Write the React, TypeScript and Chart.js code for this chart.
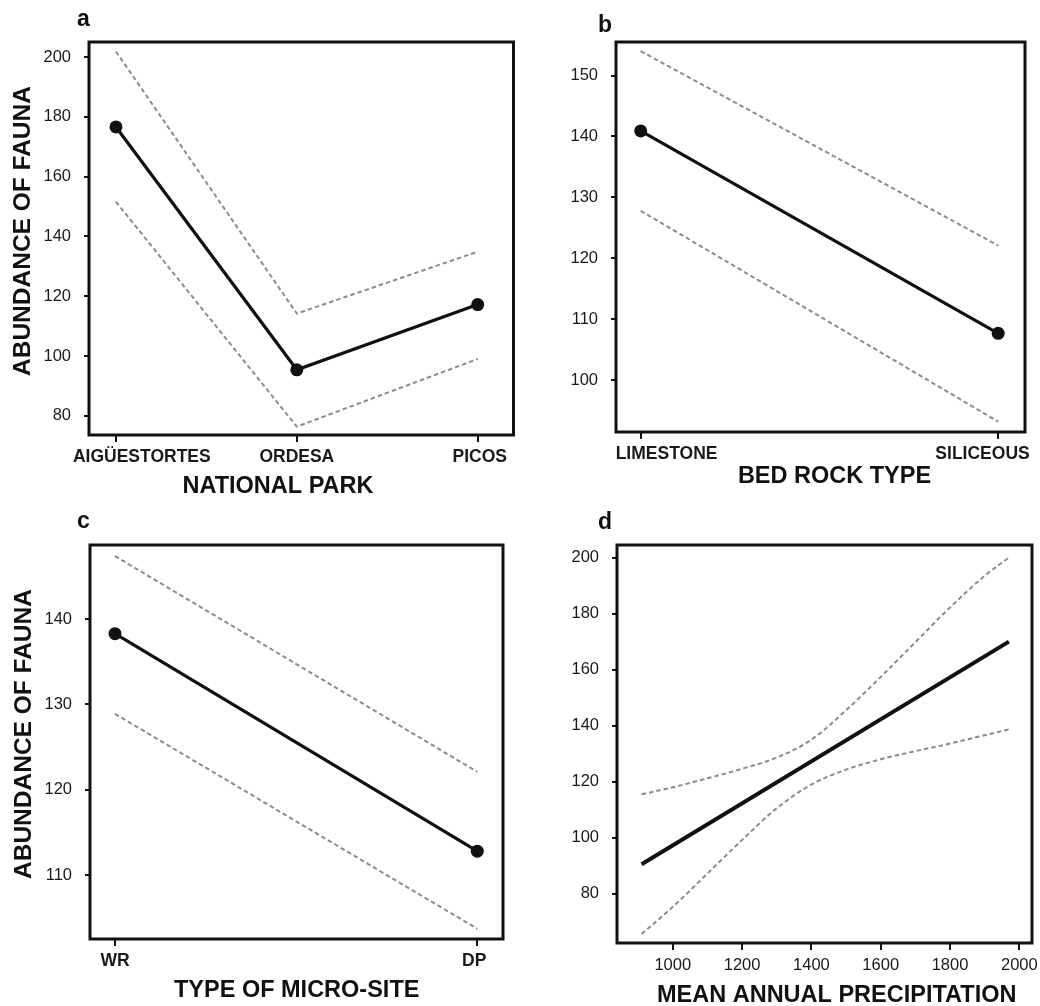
import React, { useEffect, useRef } from 'react';
import { Chart, registerables } from 'chart.js';

Chart.register(...registerables);

// ---------------- DATA ----------------
const parkCategories = ['AIGÜESTORTES', 'ORDESA', 'PICOS'];
const parkFit = [176.6, 95.4, 117.2];
const parkUpper = [201.8, 114.2, 134.9];
const parkLower = [151.6, 76.4, 99.0];
const parkYTicks = [80, 100, 120, 140, 160, 180, 200];

const rockCategories = ['LIMESTONE', 'SILICEOUS'];
const rockFit = [140.9, 107.7];
const rockUpper = [154.0, 122.1];
const rockLower = [127.8, 93.2];
const rockYTicks = [100, 110, 120, 130, 140, 150];

const siteCategories = ['WR', 'DP'];
const siteFit = [138.3, 112.8];
const siteUpper = [147.4, 122.1];
const siteLower = [128.9, 103.7];
const siteYTicks = [110, 120, 130, 140];

const precipX = [910, 1000, 1100, 1200, 1300, 1400, 1500, 1600, 1700, 1800, 1900, 1970];
const precipUpper = [115.5, 118.0, 121.2, 124.6, 128.6, 135.0, 145.5, 157.4, 169.8, 182.2, 193.5, 200.0];
const precipLower = [65.6, 75.3, 87.2, 99.2, 110.5, 119.0, 124.3, 128.0, 130.9, 133.6, 136.6, 138.7];
const precipFitX = [910, 1970];
const precipFit = [90.5, 170.0];
const precipXTicks = [1000, 1200, 1400, 1600, 1800, 2000];
const precipYTicks = [80, 100, 120, 140, 160, 180, 200];

const yAxisTitle = 'ABUNDANCE OF FAUNA';

// ---------------- STYLE ----------------
const FONT = '"Liberation Sans", Arial, Helvetica, sans-serif';
const INK = '#111111';
const CI_COLOR = '#8c8c8c';

type Adjust = { align: 'left' | 'right' | 'center'; dx: number };

interface PanelSpec {
  letter: string;
  letterPos: [number, number];
  box: { left: number; top: number; width: number; height: number };
  area: { left: number; top: number; right: number; bottom: number };
  xMin: number; xMax: number; yMin: number; yMax: number;
  xTicks: number[];
  xLabel: (v: number) => string;
  xBold: boolean;
  xFontSize: number;
  xPad: number;
  yTicks: number[];
  xTitle: string;
  xTitlePos: [number, number];
  yTitle?: string;
  yTitlePos?: [number, number];
  datasets: any[];
  adjust?: Adjust[];
}

const pts = (xs: number[], ys: number[]) => ys.map((y, i) => ({ x: xs[i], y }));
const idx = (ys: any[]) => ys.map((_, i) => i);

function catDatasets(fit: number[], up: number[], lo: number[]) {
  const xs = idx(fit);
  return [
    {
      data: pts(xs, fit), borderColor: INK, borderWidth: 3.2, pointRadius: 6.5,
      pointBackgroundColor: INK, pointBorderColor: INK, pointBorderWidth: 0, tension: 0, fill: false,
    },
    { data: pts(xs, up), borderColor: CI_COLOR, borderWidth: 2, borderDash: [4.5, 3], pointRadius: 0, tension: 0, fill: false },
    { data: pts(xs, lo), borderColor: CI_COLOR, borderWidth: 2, borderDash: [4.5, 3], pointRadius: 0, tension: 0, fill: false },
  ];
}

const CENTER: Adjust = { align: 'center', dx: 0 };

const panels: PanelSpec[] = [
  {
    letter: 'a', letterPos: [77, 26],
    box: { left: 0, top: 0, width: 520, height: 500 },
    area: { left: 89, top: 42, right: 515, bottom: 435 },
    xMin: -0.149, xMax: 2.198, yMin: 73.6, yMax: 205,
    xTicks: idx(parkCategories), xLabel: (v) => parkCategories[v] ?? '', xBold: true, xFontSize: 17.5, xPad: 5,
    yTicks: parkYTicks,
    xTitle: 'NATIONAL PARK', xTitlePos: [278, 487],
    yTitle: yAxisTitle, yTitlePos: [23.5, 231],
    datasets: catDatasets(parkFit, parkUpper, parkLower),
    adjust: [{ align: 'left', dx: -43 }, CENTER, { align: 'center', dx: 2 }],
  },
  {
    letter: 'b', letterPos: [78, 32],
    box: { left: 520, top: 0, width: 520, height: 500 },
    area: { left: 96, top: 42, right: 505, bottom: 432 },
    xMin: -0.069, xMax: 1.075, yMin: 91.5, yMax: 155.5,
    xTicks: idx(rockCategories), xLabel: (v) => rockCategories[v] ?? '', xBold: true, xFontSize: 17.5, xPad: 5,
    yTicks: rockYTicks,
    xTitle: 'BED ROCK TYPE', xTitlePos: [314.5, 476.7],
    datasets: catDatasets(rockFit, rockUpper, rockLower),
    adjust: [{ align: 'left', dx: -25 }, { align: 'right', dx: 31.5 }],
  },
  {
    letter: 'c', letterPos: [77, 28],
    box: { left: 0, top: 500, width: 520, height: 506 },
    area: { left: 90, top: 45, right: 503, bottom: 439 },
    xMin: -0.069, xMax: 1.071, yMin: 102.5, yMax: 148.7,
    xTicks: idx(siteCategories), xLabel: (v) => siteCategories[v] ?? '', xBold: true, xFontSize: 17.5, xPad: 5,
    yTicks: siteYTicks,
    xTitle: 'TYPE OF MICRO-SITE', xTitlePos: [296.7, 490.3],
    yTitle: yAxisTitle, yTitlePos: [24, 234],
    datasets: catDatasets(siteFit, siteUpper, siteLower),
    adjust: [CENTER, { align: 'center', dx: -3 }],
  },
  {
    letter: 'd', letterPos: [78, 29],
    box: { left: 520, top: 500, width: 520, height: 506 },
    area: { left: 97, top: 45, right: 512, bottom: 443 },
    xMin: 839, xMax: 2036.6, yMin: 62.4, yMax: 204.5,
    xTicks: precipXTicks, xLabel: (v) => String(v), xBold: false, xFontSize: 16.5, xPad: 6,
    yTicks: precipYTicks,
    xTitle: 'MEAN ANNUAL PRECIPITATION', xTitlePos: [316.7, 495.5],
    datasets: [
      { data: pts(precipFitX, precipFit), borderColor: INK, borderWidth: 4, pointRadius: 0, tension: 0, fill: false },
      { data: pts(precipX, precipUpper), borderColor: CI_COLOR, borderWidth: 2, borderDash: [4.5, 3], pointRadius: 0, tension: 0.4, cubicInterpolationMode: 'monotone', fill: false },
      { data: pts(precipX, precipLower), borderColor: CI_COLOR, borderWidth: 2, borderDash: [4.5, 3], pointRadius: 0, tension: 0.4, cubicInterpolationMode: 'monotone', fill: false },
    ],
  },
];

// ---------------- PLUGINS ----------------
function makeDecorPlugin(p: PanelSpec) {
  return {
    id: 'decor_' + p.letter,
    beforeDraw(chart: any) {
      if (!p.adjust) return;
      const items = chart.scales.x.getLabelItems();
      if ((items as any)._adjusted) return;
      (items as any)._adjusted = true;
      items.forEach((it: any, i: number) => {
        const a = p.adjust![i];
        if (!a) return;
        it.options.textAlign = a.align;
        it.options.translation[0] += a.dx;
      });
    },
    afterDraw(chart: any) {
      const { ctx, chartArea } = chart;
      ctx.save();
      ctx.strokeStyle = INK;
      ctx.lineWidth = 3;
      ctx.strokeRect(chartArea.left, chartArea.top, chartArea.right - chartArea.left, chartArea.bottom - chartArea.top);
      // panel letter
      ctx.fillStyle = INK;
      ctx.font = `bold 23px ${FONT}`;
      ctx.textAlign = 'left';
      ctx.textBaseline = 'alphabetic';
      ctx.fillText(p.letter, p.letterPos[0], p.letterPos[1]);
      // axis titles
      ctx.font = `bold 23.5px ${FONT}`;
      ctx.textAlign = 'center';
      ctx.textBaseline = 'middle';
      ctx.fillText(p.xTitle, p.xTitlePos[0], p.xTitlePos[1]);
      if (p.yTitle && p.yTitlePos) {
        ctx.font = `bold 24.5px ${FONT}`;
        ctx.translate(p.yTitlePos[0], p.yTitlePos[1]);
        ctx.rotate(-Math.PI / 2);
        ctx.fillText(p.yTitle, 0, 0);
      }
      ctx.restore();
    },
  };
}

function buildConfig(p: PanelSpec): any {
  const { width, height } = p.box;
  const tickGrid = (len: number) => ({
    display: true, drawOnChartArea: false, drawTicks: true, tickLength: len,
    tickWidth: 2, tickColor: INK, lineWidth: 2, color: INK,
  });
  return {
    type: 'line',
    data: { datasets: p.datasets },
    options: {
      animation: false,
      responsive: false,
      maintainAspectRatio: false,
      devicePixelRatio: 1,
      layout: { padding: { top: p.area.top, right: width - p.area.right, left: 0, bottom: 0 } },
      plugins: {
        legend: { display: false },
        tooltip: { enabled: false },
        title: { display: false },
      },
      scales: {
        x: {
          type: 'linear', position: 'bottom', min: p.xMin, max: p.xMax,
          afterBuildTicks: (s: any) => { s.ticks = p.xTicks.map((v) => ({ value: v })); },
          afterFit: (s: any) => { s.height = height - p.area.bottom; s.paddingLeft = 0; s.paddingRight = 0; },
          grid: tickGrid(7),
          border: { display: false },
          ticks: {
            padding: p.xPad, maxRotation: 0, minRotation: 0, autoSkip: false, color: '#1a1a1a',
            font: { family: FONT, size: p.xFontSize, weight: p.xBold ? 'bold' : 'normal' },
            callback: (v: number) => p.xLabel(v),
          },
          title: { display: false },
        },
        y: {
          type: 'linear', position: 'left', min: p.yMin, max: p.yMax,
          afterBuildTicks: (s: any) => { s.ticks = p.yTicks.map((v) => ({ value: v })); },
          afterFit: (s: any) => { s.width = p.area.left; s.paddingTop = 0; s.paddingBottom = 0; },
          grid: tickGrid(5),
          border: { display: false },
          ticks: {
            padding: 13, color: '#1a1a1a',
            font: { family: FONT, size: 16.5, weight: 'normal' },
            callback: (v: number) => String(v),
          },
          title: { display: false },
        },
      },
    },
    plugins: [makeDecorPlugin(p)],
  };
}

function Panel({ spec }: { spec: PanelSpec }) {
  const ref = useRef<HTMLCanvasElement | null>(null);
  useEffect(() => {
    if (!ref.current) return;
    const chart = new Chart(ref.current, buildConfig(spec));
    return () => chart.destroy();
  }, [spec]);
  const { left, top, width, height } = spec.box;
  return (
    <canvas
      ref={ref}
      width={width}
      height={height}
      style={{ position: 'absolute', left, top, width, height }}
    />
  );
}

export default function App() {
  return (
    <div style={{ position: 'fixed', left: 0, top: 0, width: 1040, height: 1006, background: '#ffffff', overflow: 'hidden' }}>
      {panels.map((p) => (
        <Panel key={p.letter} spec={p} />
      ))}
    </div>
  );
}
